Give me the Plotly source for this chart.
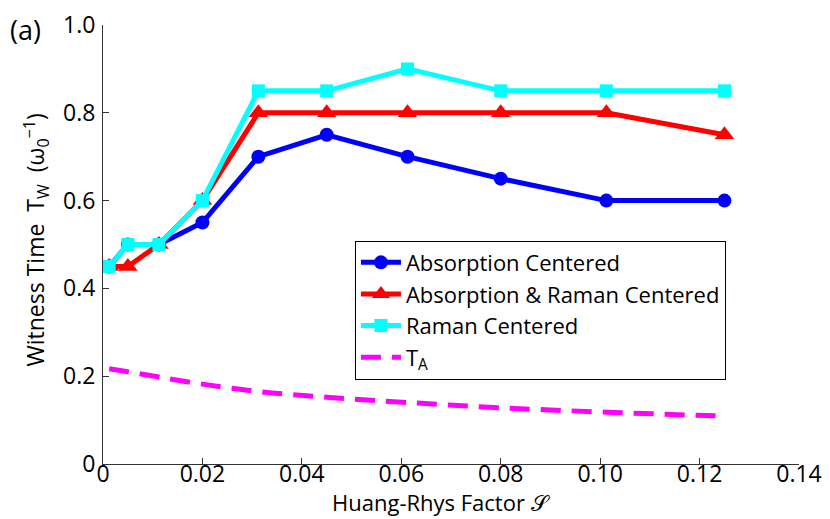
import plotly.graph_objects as go

S_vals = [0.00125, 0.005, 0.01125, 0.02, 0.03125, 0.045, 0.06125, 0.08, 0.10125, 0.125]
absorption = [0.45, 0.50, 0.50, 0.55, 0.70, 0.75, 0.70, 0.65, 0.60, 0.60]
abs_raman = [0.45, 0.45, 0.50, 0.60, 0.80, 0.80, 0.80, 0.80, 0.80, 0.75]
raman = [0.45, 0.50, 0.50, 0.60, 0.85, 0.85, 0.90, 0.85, 0.85, 0.85]
T_A = [0.217, 0.210, 0.198, 0.182, 0.165, 0.152, 0.140, 0.128, 0.118, 0.109]

x_ticks = [0, 0.02, 0.04, 0.06, 0.08, 0.10, 0.12, 0.14]
x_ticktext = ["0", "0.02", "0.04", "0.06", "0.08", "0.10", "0.12", "0.14"]
y_ticks = [0, 0.2, 0.4, 0.6, 0.8, 1.0]
y_ticktext = ["0", "0.2", "0.4", "0.6", "0.8", "1.0"]

FONT = "Open Sans, sans-serif"

fig = go.Figure()
fig.add_trace(go.Scatter(x=S_vals, y=absorption, mode="lines+markers",
                         name="Absorption Centered",
                         line=dict(color="#0000ff", width=5),
                         marker=dict(symbol="circle", size=14, color="#0000ff")))
fig.add_trace(go.Scatter(x=S_vals, y=abs_raman, mode="lines+markers",
                         name="Absorption &amp; Raman Centered",
                         line=dict(color="#ff0000", width=5),
                         marker=dict(symbol="triangle-up", size=17, color="#ff0000")))
fig.add_trace(go.Scatter(x=S_vals, y=raman, mode="lines+markers",
                         name="Raman Centered",
                         line=dict(color="#00ffff", width=5),
                         marker=dict(symbol="square", size=13, color="#00ffff")))
fig.add_trace(go.Scatter(x=S_vals, y=T_A, mode="lines",
                         name="T<sub>A</sub>", line_shape="spline",
                         line=dict(color="#ff00ff", width=5, dash="20px,11px")))

fig.update_layout(
    width=822, height=511,
    margin=dict(l=95, r=31, t=17, b=55),
    paper_bgcolor="white", plot_bgcolor="white",
    font=dict(family=FONT, size=23, color="black"),
    showlegend=True,
    legend=dict(x=0.362, y=0.509, xanchor="left", yanchor="top",
                bordercolor="black", borderwidth=1, bgcolor="white",
                font=dict(size=22), tracegroupgap=0, itemwidth=40),
    xaxis=dict(range=[0, 0.14], tickvals=x_ticks, ticktext=x_ticktext,
               showgrid=False, zeroline=False, showline=True, linecolor="#333",
               linewidth=1, ticks="inside", ticklen=6, tickcolor="#333",
               ticklabelstandoff=-11, automargin=False),
    yaxis=dict(range=[0, 1.0], tickvals=y_ticks, ticktext=y_ticktext,
               showgrid=False, zeroline=False, showline=True, linecolor="#333",
               linewidth=1, ticks="inside", ticklen=6, tickcolor="#333",
               ticklabelstandoff=2, automargin=False),
    annotations=[
        dict(text="(a)", x=0, y=1, xref="paper", yref="paper",
             xshift=-95, yshift=-4, xanchor="left", yanchor="middle",
             showarrow=False, font=dict(size=27)),
        dict(text="Huang-Rhys Factor 𝒮", x=0.485, y=0, xref="paper", yref="paper",
             yshift=-38, xanchor="center", yanchor="middle",
             showarrow=False, font=dict(size=22)),
        dict(text="Witness Time  T<sub>W</sub>  (ω<sub>0</sub><sup>−1</sup>)",
             x=0, y=0.5, xref="paper", yref="paper", xshift=-68, yshift=4,
             xanchor="center", yanchor="middle", textangle=-90,
             showarrow=False, font=dict(size=23)),
    ],
)

fig.write_html("out.html")
